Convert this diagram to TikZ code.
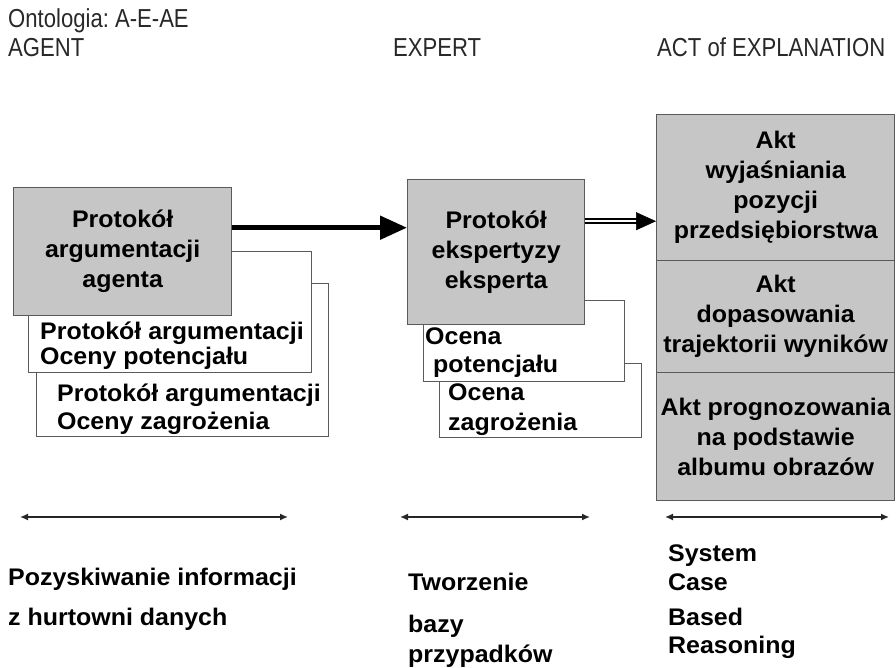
\documentclass[tikz,border=0pt]{standalone}
\usepackage{fontspec}
\setmainfont{Liberation Sans}
\newfontfamily\bxfont[FakeStretch=1.04]{Liberation Sans Bold}
\newfontfamily\hdfont[FakeStretch=0.85]{Liberation Sans}
\usetikzlibrary{arrows.meta,calc}
\definecolor{boxgray}{RGB}{198,198,198}
\definecolor{edgegray}{RGB}{90,90,90}
\definecolor{hdtext}{RGB}{40,40,40}
\tikzset{
  graybox/.style={draw=edgegray, line width=1.4pt, fill=boxgray, inner sep=0pt, align=center,
    font=\bxfont\fontsize{24}{30}\selectfont},
  whitebox/.style={draw=edgegray, line width=1.1pt, fill=white, inner sep=0pt},
  lbl/.style={anchor=base west, inner sep=0pt, font=\bxfont\fontsize{24}{30}\selectfont},
  hdr/.style={anchor=base west, inner sep=0pt, text=hdtext, font=\hdfont\fontsize{26}{30}\selectfont\frenchspacing},
  span/.style={{Latex[length=8pt,width=7pt]}-{Latex[length=8pt,width=7pt]}, line width=1.5pt, black!85},
}
\begin{document}
\begin{tikzpicture}[x=1pt,y=-1pt]
\useasboundingbox (0,0) rectangle (896,668);
% header
\node[hdr] (ont) at (8,28) {Ontologia: A-E-AE};
\node[hdr] (hag) at (8,57) {AGENT};
\node[hdr] (hex) at (393,57) {EXPERT};
\node[hdr] (hac) at (657,57) {ACT of EXPLANATION};
% agent column
\node[whitebox, anchor=north west, minimum width=292pt, minimum height=153pt] (aw2) at (36,283) {};
\node[whitebox, anchor=north west, minimum width=283pt, minimum height=121pt] (aw1) at (28,251) {};
\node[graybox, anchor=north west, minimum width=218pt, minimum height=128pt] (ag) at (13,187)
  {Protokół\\argumentacji\\agenta};
\node[lbl] (aw1a) at (40,339) {Protokół argumentacji};
\node[lbl] (aw1b) at (40,364) {Oceny potencjału};
\node[lbl] (aw2a) at (57,401) {Protokół argumentacji};
\node[lbl] (aw2b) at (57,429) {Oceny zagrożenia};
% expert column
\node[whitebox, anchor=north west, minimum width=202pt, minimum height=74pt] (ew2) at (439,363) {};
\node[whitebox, anchor=north west, minimum width=201pt, minimum height=81pt] (ew1) at (423,300) {};
\node[graybox, anchor=north west, minimum width=177pt, minimum height=145pt] (ex) at (407,179)
  {Protokół\\ekspertyzy\\eksperta};
\node[lbl] (ew1a) at (425,344) {Ocena};
\node[lbl] (ew1b) at (433,372) {potencjału};
\node[lbl] (ew2a) at (448,400) {Ocena};
\node[lbl] (ew2b) at (448,430) {zagrożenia};
% act column
\node[graybox, anchor=north west, minimum width=238pt, minimum height=146pt] (act1) at (656,114)
  {Akt\\wyjaśniania\\pozycji\\przedsiębiorstwa};
\node[graybox, anchor=north west, minimum width=238pt, minimum height=112pt] (act2) at (656,260)
  {Akt\\dopasowania\\trajektorii wyników};
\node[graybox, anchor=north west, minimum width=238pt, minimum height=128pt] (act3) at (656,372)
  {Akt prognozowania\\na podstawie\\albumu obrazów};
% arrows between columns
\coordinate (a1s) at ([yshift=24pt]ag.east);
\draw[line width=5pt, -{Triangle[length=27pt,width=23pt]}] (a1s) -- (a1s -| ex.west);
\coordinate (a2s) at ([yshift=31pt]ex.east);
\coordinate (a2e) at (a2s -| act1.west);
\draw[line width=2pt, double, double distance=2.5pt, shorten >=18pt] (a2s) -- (a2e);
\draw[line width=0.5pt, -{Triangle[length=20pt,width=18pt]}] ([xshift=-20pt]a2e) -- (a2e);
% span arrows
\coordinate (s1l) at (20,517); \coordinate (s1r) at (288,517);
\coordinate (s2l) at (400,517); \coordinate (s2r) at (590,517);
\coordinate (s3l) at (665,517); \coordinate (s3r) at (889,517);
\draw[span] (s1l) -- (s1r);
\draw[span] (s2l) -- (s2r);
\draw[span] (s3l) -- (s3r);
% bottom texts
\node[lbl] (b1) at (8,585) {Pozyskiwanie informacji};
\node[lbl] (b2) at (8,625) {z hurtowni danych};
\node[lbl] (b3) at (408,590) {Tworzenie};
\node[lbl] (b4) at (408,632) {bazy};
\node[lbl] (b5) at (408,662) {przypadków};
\node[lbl] (b6) at (668,561) {System};
\node[lbl] (b7) at (668,590) {Case};
\node[lbl] (b8) at (668,625) {Based};
\node[lbl] (b9) at (668,653) {Reasoning};
\end{tikzpicture}
\end{document}
